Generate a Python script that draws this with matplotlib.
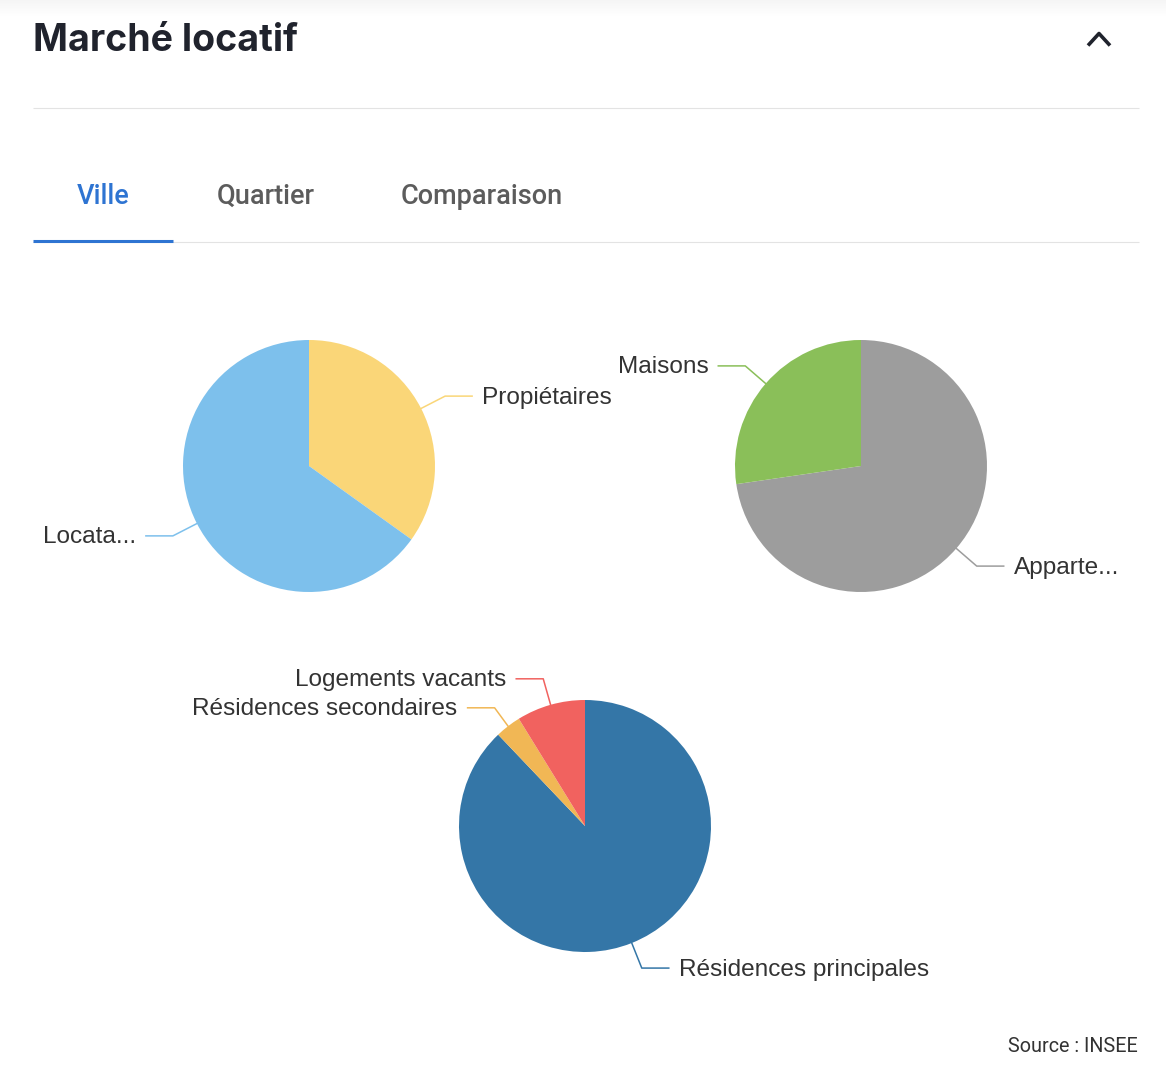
import numpy as np
import matplotlib
matplotlib.use("Agg")
import matplotlib.pyplot as plt

W, H = 1166, 1070

# pie data, clockwise from 12 o'clock
labels_occupation = ["Propiétaires", "Locata..."]
values_occupation = [34.9, 65.1]
colors_occupation = ["#FAD678", "#7DC0EC"]

labels_type = ["Apparte...", "Maisons"]
values_type = [72.7, 27.3]
colors_type = ["#9D9D9D", "#8ABF59"]

labels_usage = ["Résidences principales", "Résidences secondaires", "Logements vacants"]
values_usage = [87.9, 3.3, 8.8]
colors_usage = ["#3476A7", "#F1B755", "#F1625F"]

tab_names = ["Ville", "Quartier", "Comparaison"]

RADIUS = 126
LEADER1 = 27
LEADER2 = 27
LABEL_SIZE = 17.6


def draw_pie(bg, cx, cy, values, labels, colors, nudge=None):
    ax = fig.add_axes([(cx - RADIUS) / W, 1 - (cy + RADIUS) / H, 2 * RADIUS / W, 2 * RADIUS / H])
    ax.pie(values, colors=colors, startangle=90, counterclock=False, radius=1,
           wedgeprops={"linewidth": 0})
    ax.set_xlim(-1, 1)
    ax.set_ylim(-1, 1)
    ax.axis("off")

    # leader lines like the echarts ones: radial piece, then horizontal piece
    total = sum(values)
    start = 0
    for i, v in enumerate(values):
        mid = np.radians((start + v / 2) / total * 360)
        start += v
        s, c = np.sin(mid), np.cos(mid)
        dx, dy = (nudge or {}).get(i, (0, 0))
        x0, y0 = cx + RADIUS * s, cy - RADIUS * c
        x1, y1 = cx + (RADIUS + LEADER1) * s + dx, cy - (RADIUS + LEADER1) * c + dy
        side = 1 if s > 0 else -1
        x2 = x1 + side * LEADER2
        bg.plot([x0, x1, x2], [y0, y1, y1], color=colors[i], lw=1.1, solid_joinstyle="round")
        bg.text(x2 + side * 10, y1 + 1.5, labels[i], ha="left" if side > 0 else "right", va="center",
                fontsize=LABEL_SIZE, color="#333333", family="Liberation Sans")


fig = plt.figure(figsize=(W / 100, H / 100), dpi=100, facecolor="white")
bg = fig.add_axes([0, 0, 1, 1])
bg.set_xlim(0, W)
bg.set_ylim(H, 0)
bg.axis("off")

# soft shadow at the very top of the page
shade = np.linspace(0.96, 1, 18)[:, None]
bg.imshow(shade, extent=[0, W, 18, 0], cmap="gray", vmin=0, vmax=1, aspect="auto", zorder=0)
bg.set_xlim(0, W)
bg.set_ylim(H, 0)

bg.text(33, 51, "Marché locatif", fontsize=27, fontweight="bold", color="#20232D",
        family="Inter", va="baseline", ha="left")
bg.plot([1088, 1099, 1110], [45.5, 33.5, 45.5], color="#20232D", lw=2.6, solid_capstyle="butt")

bg.plot([33, 1139], [108, 108], color="#E3E3E3", lw=0.8, solid_capstyle="butt")
bg.plot([33, 1139], [242, 242], color="#E3E3E3", lw=0.8, solid_capstyle="butt")
bg.plot([33, 173], [240.5, 240.5], color="#2E74D2", lw=2.2, solid_capstyle="butt")

for name, x, col in zip(tab_names, [103, 265.5, 481.5], ["#2E74D2", "#5C5C5C", "#5C5C5C"]):
    bg.text(x, 203.5, name, fontsize=19.5, fontweight="medium", color=col, family="Roboto",
            ha="center", va="baseline")

draw_pie(bg, 309, 466, values_occupation, labels_occupation, colors_occupation)
draw_pie(bg, 861, 466, values_type, labels_type, colors_type)
draw_pie(bg, 585, 826, values_usage, labels_usage, colors_usage, nudge={1: (3, 3)})

bg.text(1138, 1046, "Source : INSEE", fontsize=14.2, color="#333333", family="Roboto",
        ha="right", va="center")

fig.savefig("out.png", dpi=100)
